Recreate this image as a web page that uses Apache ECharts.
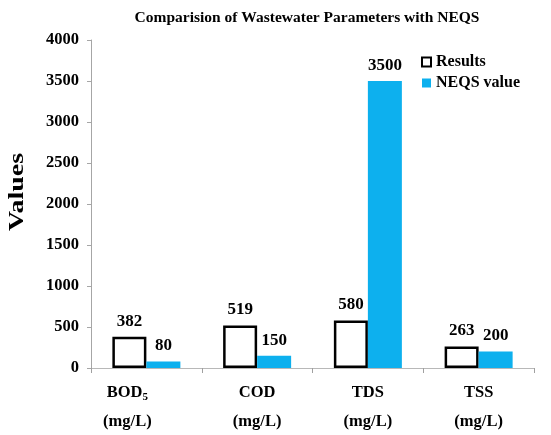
<!DOCTYPE html>
<html>
<head>
<meta charset="utf-8">
<script src="https://cdn.jsdelivr.net/npm/echarts@6/dist/echarts.min.js"></script>
<style>
  html, body { margin: 0; padding: 0; background: #fff; }
  #chart { width: 551px; height: 435px; }
</style>
</head>
<body>
<div id="chart"></div>
<script>
// Wastewater parameters measured against NEQS limits
const categories = ['BOD5', 'COD', 'TDS', 'TSS'];
const resultValues = [382, 519, 580, 263];
const neqsValues = [80, 150, 3500, 200];
const yMin = 0;
const yMax = 4000;
const yStep = 500;

const serif = '"Times New Roman", "Liberation Serif", serif';
const blue = '#0db0ee';

const chart = echarts.init(document.getElementById('chart'), null, { renderer: 'canvas' });

function categoryLabel(name) {
  if (name === 'BOD5') {
    return '{a|BOD}{s|5}{p|}\n{b|(mg/L)}{p|}';
  }
  return '{a|' + name + '}\n{b|(mg/L)}';
}

const valueLabel = {
  show: true,
  position: 'top',
  distance: 7,
  color: '#000',
  fontFamily: serif,
  fontWeight: 'bold',
  fontSize: 17
};

chart.setOption({
  backgroundColor: '#ffffff',
  animation: false,
  title: {
    text: 'Comparision of Wastewater Parameters with NEQS',
    left: 302,
    textAlign: 'center',
    top: 5,
    textStyle: { fontFamily: serif, fontWeight: 'bold', fontSize: 15.5, color: '#000' }
  },
  legend: {
    orient: 'vertical',
    left: 421,
    top: 54,
    padding: 0,
    itemWidth: 9,
    itemHeight: 9,
    itemGap: 5,
    icon: 'rect',
    textStyle: { fontFamily: serif, fontWeight: 'bold', fontSize: 16, color: '#000' },
    data: ['Results', 'NEQS value']
  },
  graphic: [{
    type: 'text',
    x: 18,
    y: 192,
    rotation: Math.PI / 2,
    scaleX: 1.33,
    style: {
      text: 'Values',
      font: 'bold 21px ' + serif,
      fill: '#000',
      textAlign: 'center',
      textVerticalAlign: 'middle'
    }
  }],
  grid: { left: 91, right: 17, top: 40, bottom: 67, containLabel: false },
  xAxis: {
    type: 'category',
    data: categories,
    axisLine: { lineStyle: { color: '#b8b8b8', width: 1 } },
    axisTick: { show: true, length: 5, lineStyle: { color: '#a0a0a0' } },
    axisLabel: {
      margin: 10,
      interval: 0,
      formatter: categoryLabel,
      rich: {
        a: { fontFamily: serif, fontWeight: 'bold', fontSize: 16.5, color: '#000', lineHeight: 29 },
        s: { fontFamily: serif, fontWeight: 'bold', fontSize: 11, color: '#000', lineHeight: 29, padding: [9, 0, 0, 0] },
        b: { fontFamily: serif, fontWeight: 'bold', fontSize: 16.5, color: '#000', lineHeight: 29 },
        p: { width: 38, lineHeight: 29 }
      }
    }
  },
  yAxis: {
    type: 'value',
    min: yMin,
    max: yMax,
    interval: yStep,
    splitLine: { show: false },
    axisLine: { show: true, lineStyle: { color: '#a6a6a6', width: 1 } },
    axisTick: { show: true, length: 4, lineStyle: { color: '#a6a6a6' } },
    axisLabel: {
      margin: 12,
      formatter: function (v) { return String(v); },
      fontFamily: serif,
      fontWeight: 'bold',
      fontSize: 16.5,
      color: '#000'
    }
  },
  series: [
    {
      name: 'Results',
      type: 'bar',
      data: resultValues,
      barWidth: 34,
      barGap: '0%',
      itemStyle: { color: '#ffffff', borderColor: '#000000', borderWidth: 2.5 },
      label: valueLabel
    },
    {
      name: 'NEQS value',
      type: 'bar',
      data: neqsValues,
      barWidth: 34,
      itemStyle: { color: blue },
      label: valueLabel
    }
  ]
});
</script>
</body>
</html>
